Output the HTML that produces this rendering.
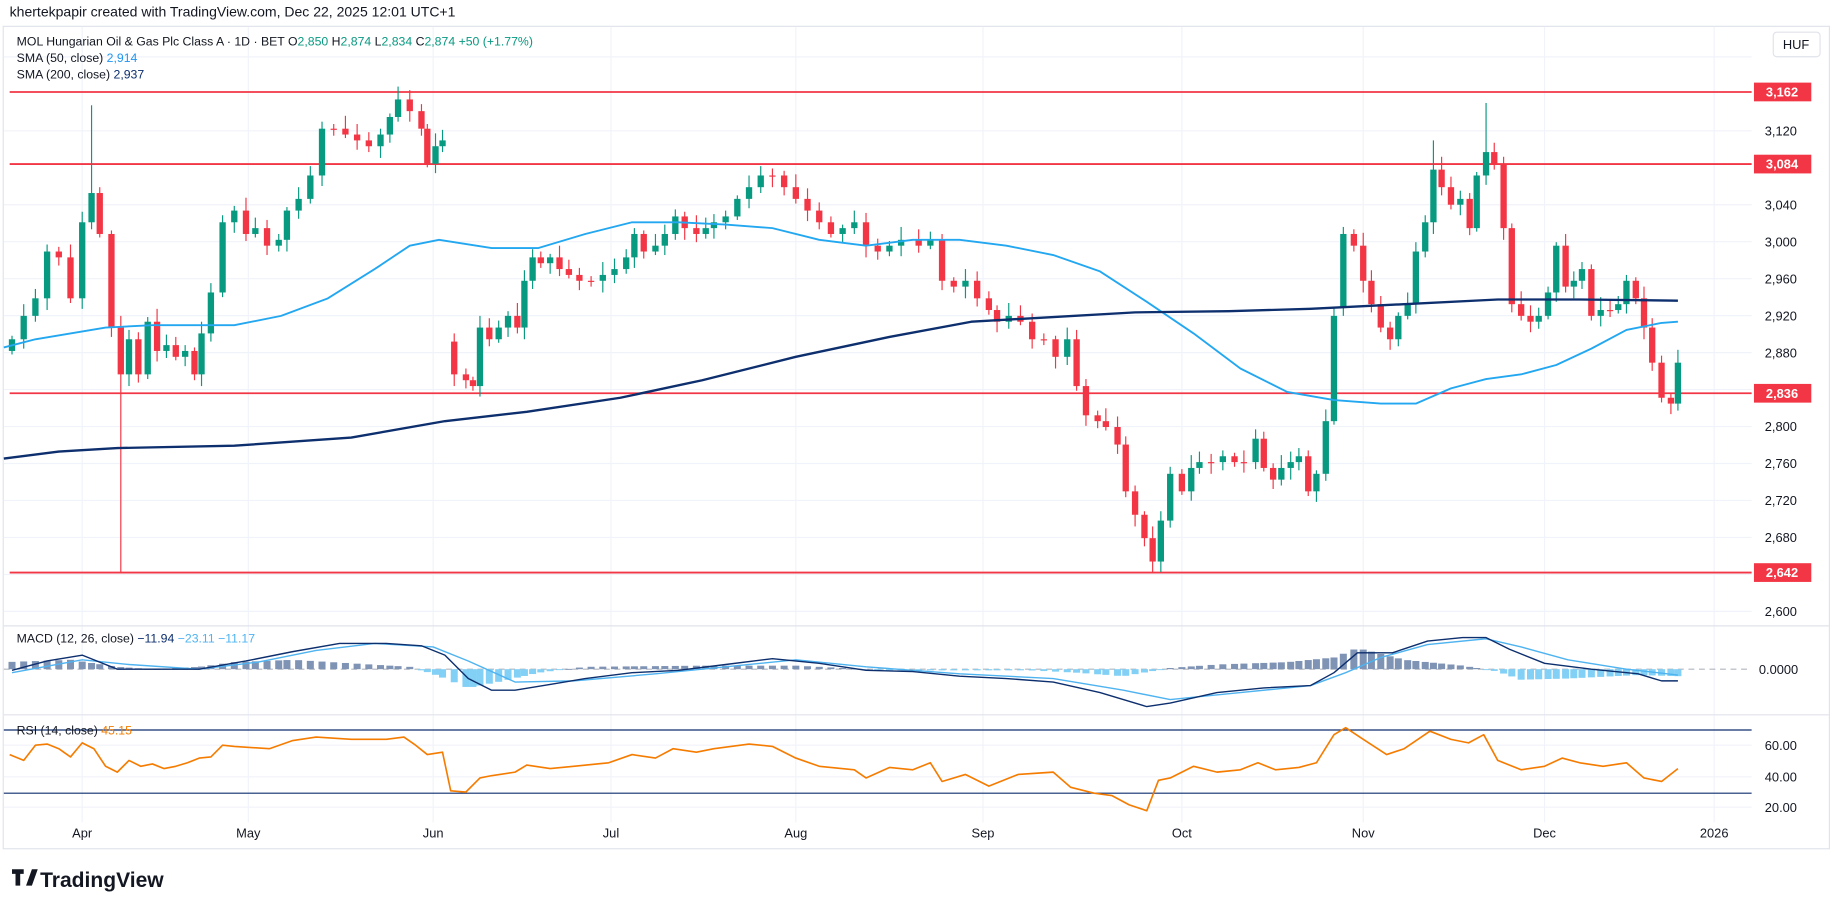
<!DOCTYPE html>
<html><head><meta charset="utf-8"><style>
html,body{margin:0;padding:0;background:#fff;overflow:hidden}
svg{display:block}
text{font-family:"Liberation Sans",sans-serif}
</style></head><body>
<svg id="s" width="1835" height="909" viewBox="0 0 1568 777" xmlns="http://www.w3.org/2000/svg">
<rect width="1568" height="777" fill="#fff"/>
<text x="8" y="14" font-size="12" fill="#131722">khertekpapir created with TradingView.com, Dec 22, 2025 12:01 UTC+1</text>
<rect x="2.5" y="22.5" width="1561" height="703" fill="none" stroke="#e0e3eb"/>
<g id="grid"></g>
<g id="main"></g>
<text x="14" y="39" font-size="10.5" fill="#131722">MOL Hungarian Oil &amp; Gas Plc Class A · 1D · BET  <tspan>O</tspan><tspan fill="#089981">2,850</tspan> H<tspan fill="#089981">2,874</tspan> L<tspan fill="#089981">2,834</tspan> C<tspan fill="#089981">2,874</tspan> <tspan fill="#089981">+50 (+1.77%)</tspan></text>
<text x="14" y="53" font-size="10.5" fill="#131722">SMA (50, close) <tspan fill="#2196f3">2,914</tspan></text>
<text x="14" y="67" font-size="10.5" fill="#131722">SMA (200, close) <tspan fill="#0d2f6e">2,937</tspan></text>
<text x="14" y="549" font-size="10.5" fill="#131722">MACD (12, 26, close) <tspan fill="#0d2f6e">−11.94</tspan> <tspan fill="#4fb3f0">−23.11</tspan> <tspan fill="#4fb3f0">−11.17</tspan></text>
<text x="14" y="628" font-size="10.5" fill="#131722">RSI (14, close) <tspan fill="#f57c00">45.15</tspan></text>
<rect x="1515.5" y="27.5" width="40" height="21" rx="3" fill="#fff" stroke="#e0e3eb"/>
<text x="1535" y="42" font-size="11" fill="#131722" text-anchor="middle">HUF</text>
<g font-size="18" font-weight="bold" fill="#131722"><text x="34" y="758">TradingView</text></g>
<path d="M10 743h10v4h-3v10h-4v-10h-3z M22 757l5-14h5l-5 14z" fill="#131722"/>
</svg>
<script>
const NS="http://www.w3.org/2000/svg";
const G=document.getElementById('grid'),M=document.getElementById('main');
function el(p,t,a,txt){const e=document.createElementNS(NS,t);for(const k in a)e.setAttribute(k,a[k]);if(txt!==undefined)e.textContent=txt;p.appendChild(e);return e;}
const PY=p=>175+(3040-p)*0.79;
const R=1497;
const months=[["Apr",70],["May",212],["Jun",370],["Jul",522],["Aug",680],["Sep",840],["Oct",1010],["Nov",1165],["Dec",1320],["2026",1465]];
months.forEach(m=>{el(G,'line',{x1:m[1],x2:m[1],y1:23,y2:703,stroke:'#f0f3fa'});el(G,'text',{x:m[1],y:716,'font-size':11,'text-anchor':'middle',fill:'#131722'},m[0]);});
[3200,3120,3040,3000,2960,2920,2880,2840,2800,2760,2720,2680,2640,2600].forEach(p=>{const y=PY(p);el(G,'line',{x1:3,x2:R,y1:y,y2:y,stroke:'#f0f3fa'});
 if(![3200,2840,2640].includes(p))el(G,'text',{x:1522,y:y+4,'font-size':11,'text-anchor':'middle',fill:'#131722'},p.toLocaleString('en-US'));});
[637,664,690].forEach((y,i)=>{el(G,'line',{x1:3,x2:R,y1:y,y2:y,stroke:'#f0f3fa'});el(G,'text',{x:1522,y:y+4,'font-size':11,'text-anchor':'middle',fill:'#131722'},["60.00","40.00","20.00"][i]);});
el(G,'line',{x1:3,x2:1563,y1:535,y2:535,stroke:'#e0e3eb'});
el(G,'line',{x1:3,x2:1563,y1:611,y2:611,stroke:'#e0e3eb'});
el(G,'line',{x1:3,x2:R,y1:572,y2:572,stroke:'#b2b5be','stroke-dasharray':'5,4'});
el(G,'text',{x:1520,y:576,'font-size':11,'text-anchor':'middle',fill:'#131722'},"0.0000");
el(G,'line',{x1:3,x2:R,y1:624,y2:624,stroke:'#0d2f6e'});
el(G,'line',{x1:3,x2:R,y1:678,y2:678,stroke:'#0d2f6e'});
const C=[[10,290],[20,270],[30,255],[40,215],[50,220],[60,255],[70,190],[78,165],[85,200],[95,280],[103,320],[110,290],[118,320],[126,275],[134,300],[142,295],[150,305],[158,300],[166,320],[172,285],[180,250],[190,190],[200,180],[210,200],[218,195],[228,210],[238,205],[245,180],[255,170],[265,150],[275,110],[285,110],[295,115],[305,120],[315,125],[325,115],[333,100],[340,85],[350,95],[360,110],[365,140],[372,125],[378,120],[388,320],[398,325],[404,330],[410,280],[418,290],[426,280],[434,270],[442,280],[448,240],[455,220],[462,225],[470,220],[478,230],[486,235],[495,240],[505,240],[515,235],[525,230],[535,220],[542,200],[550,215],[560,210],[568,200],[577,185],[585,195],[595,200],[603,195],[610,190],[620,185],[630,170],[640,160],[650,150],[660,150],[670,160],[680,170],[690,180],[700,190],[710,200],[720,195],[730,190],[740,210],[750,215],[760,210],[770,205],[785,210],[795,205],[805,240],[815,245],[825,240],[835,255],[845,265],[852,275],[862,270],[872,275],[882,290],[892,290],[902,305],[912,290],[920,330],[928,355],[938,360],[945,365],[955,380],[962,420],[970,440],[978,460],[985,480],[992,445],[1000,405],[1010,420],[1018,400],[1025,395],[1035,395],[1045,390],[1055,395],[1063,395],[1073,375],[1080,400],[1088,410],[1095,400],[1103,395],[1110,390],[1118,420],[1125,405],[1133,360],[1140,270],[1148,200],[1157,210],[1165,240],[1172,260],[1180,280],[1188,290],[1195,270],[1203,260],[1210,215],[1218,190],[1225,145],[1232,160],[1240,175],[1248,170],[1256,195],[1262,150],[1270,130],[1277,140],[1285,195],[1292,260],[1300,270],[1308,275],[1315,270],[1323,250],[1330,210],[1338,245],[1345,240],[1352,230],[1360,270],[1368,265],[1376,265],[1383,260],[1390,240],[1398,255],[1405,280],[1412,310],[1420,340],[1428,345],[1434,310]];
const special={78:[90,null],103:[null,490],733:[null,295],1270:[88,null],1225:[120,null],340:[74,null],985:[null,490]};
const opens={388:292,1140:360,1148:262};
function pl(pts,col,w){el(M,'polyline',{points:pts.map(p=>p.join(',')).join(' '),fill:'none',stroke:col,'stroke-width':w,'stroke-linejoin':'round'});}
[3162,3084,2836,2642].forEach(p=>{const y=PY(p);el(M,'line',{x1:8,x2:R,y1:y,y2:y,stroke:'#f23645','stroke-width':1.5});
 el(M,'rect',{x:1499,y:y-8,width:49,height:16,fill:'#f23645'});el(M,'text',{x:1523,y:y+4,'font-size':11,'font-weight':'bold','text-anchor':'middle',fill:'#fff'},p.toLocaleString('en-US'));});
let prev=300;
C.forEach((c,i)=>{const [x,cl]=c;let op=i==0?300:prev;if(opens[x]!==undefined)op=opens[x];const up=cl<op;const col=up?'#089981':'#f23645';
 const top=Math.min(op,cl),bot=Math.max(op,cl);let hi=top-(3+(i*7)%9),lo=bot+(3+(i*5)%8);
 const s=special[x];if(s){if(s[0])hi=s[0];if(s[1])lo=s[1];}
 el(M,'line',{x1:x,x2:x,y1:hi,y2:lo,stroke:col,'stroke-width':1});
 el(M,'rect',{x:x-2.7,y:top,width:5.4,height:Math.max(1,bot-top),fill:col});prev=cl;});
pl([[3,297],[30,290],[60,285],[90,280],[130,278],[200,278],[240,270],[280,255],[320,230],[350,210],[375,205],[420,212],[460,212],[500,200],[540,190],[580,190],[620,192],[660,195],[700,205],[740,210],[780,205],[820,205],[860,210],[900,218],[940,232],[980,258],[1020,285],[1060,315],[1100,335],[1140,342],[1180,345],[1210,345],[1240,332],[1270,324],[1300,320],[1330,312],[1360,298],[1390,282],[1420,276],[1434,275]],'#22a7f0',1.6);
pl([[3,392],[50,386],[100,383],[200,381],[300,374],[380,360],[450,352],[530,340],[600,325],[680,305],[760,288],[830,275],[900,271],[970,267],[1050,266],[1120,264],[1200,260],[1280,256],[1350,256],[1434,257]],'#0d2f6e',2);
const H=[[3,6],[60,8],[100,2],[130,0],[170,2],[200,6],[250,8],[300,5],[350,2],[370,-4],[400,-16],[430,-10],[460,-3],[500,2],[600,3],[680,3],[720,1],[760,-1],[800,-1],[880,-1],[920,-3],[960,-6],[1000,1],[1040,4],[1100,6],[1140,10],[1160,18],[1200,8],[1250,3],[1280,-2],[1300,-9],[1340,-8],[1400,-5],[1434,-6]];
function interp(a,x){for(let i=0;i<a.length-1;i++){if(x>=a[i][0]&&x<=a[i+1][0]){const t=(x-a[i][0])/(a[i+1][0]-a[i][0]);return a[i][1]+t*(a[i+1][1]-a[i][1]);}}return a[a.length-1][1];}
C.forEach(c=>{const v=interp(H,c[0]);const col=v>=0?'#7f93b5':'#82d0f5';el(M,'rect',{x:c[0]-3,y:v>=0?572-v:572,width:6,height:Math.max(0.8,Math.abs(v)),fill:col});});
pl([[10,575],[70,564],[110,568],[170,572],[220,566],[270,556],[320,550],[370,553],[400,565],[440,583],[490,582],[560,576],[620,570],[680,564],[740,570],[820,576],[900,580],[960,590],[1000,598],[1060,592],[1120,586],[1150,575],[1180,562],[1220,551],[1270,546],[1300,553],[1340,564],[1390,572],[1434,577]],'#4fb3f0',1.2);
pl([[10,573],[40,565],[70,560],[100,572],[130,572],[170,572],[210,565],[250,557],[290,550],[330,550],[360,552],[380,560],[400,580],[420,590],[440,590],[470,585],[500,580],[540,575],[580,573],[620,568],[660,563],[700,567],[740,573],[780,574],[820,578],[860,580],[900,583],[940,592],[980,604],[1000,601],[1040,592],[1080,588],[1120,586],[1140,575],[1160,558],[1190,558],[1220,548],[1250,545],[1270,545],[1290,555],[1320,567],[1360,572],[1400,576],[1420,582],[1434,582]],'#0d2f6e',1.2);
pl([[8,645],[20,650],[30,637],[40,636],[50,640],[60,647],[70,635],[80,640],[90,655],[100,660],[110,650],[120,655],[130,653],[140,657],[150,655],[160,652],[170,648],[180,647],[190,637],[200,638],[230,640],[250,633],[270,630],[300,632],[330,632],[345,630],[355,637],[365,645],[378,643],[385,676],[398,677],[410,665],[420,663],[440,660],[450,654],[470,657],[490,655],[520,652],[540,645],[560,648],[575,640],[595,643],[610,640],[640,636],[660,638],[680,648],[700,655],[730,658],[740,665],[760,656],[780,658],[795,652],[805,668],[825,662],[845,672],[870,662],[900,660],[915,673],[935,678],[950,680],[965,688],[980,693],[990,667],[1000,665],[1020,655],[1040,660],[1060,658],[1075,652],[1090,658],[1110,656],[1125,652],[1140,628],[1150,622],[1165,632],[1185,645],[1200,640],[1222,625],[1240,632],[1255,635],[1268,628],[1280,650],[1300,658],[1320,655],[1335,648],[1350,652],[1370,655],[1390,652],[1405,665],[1420,668],[1434,657]],'#f57c00',1.4);
</script>
</body></html>
